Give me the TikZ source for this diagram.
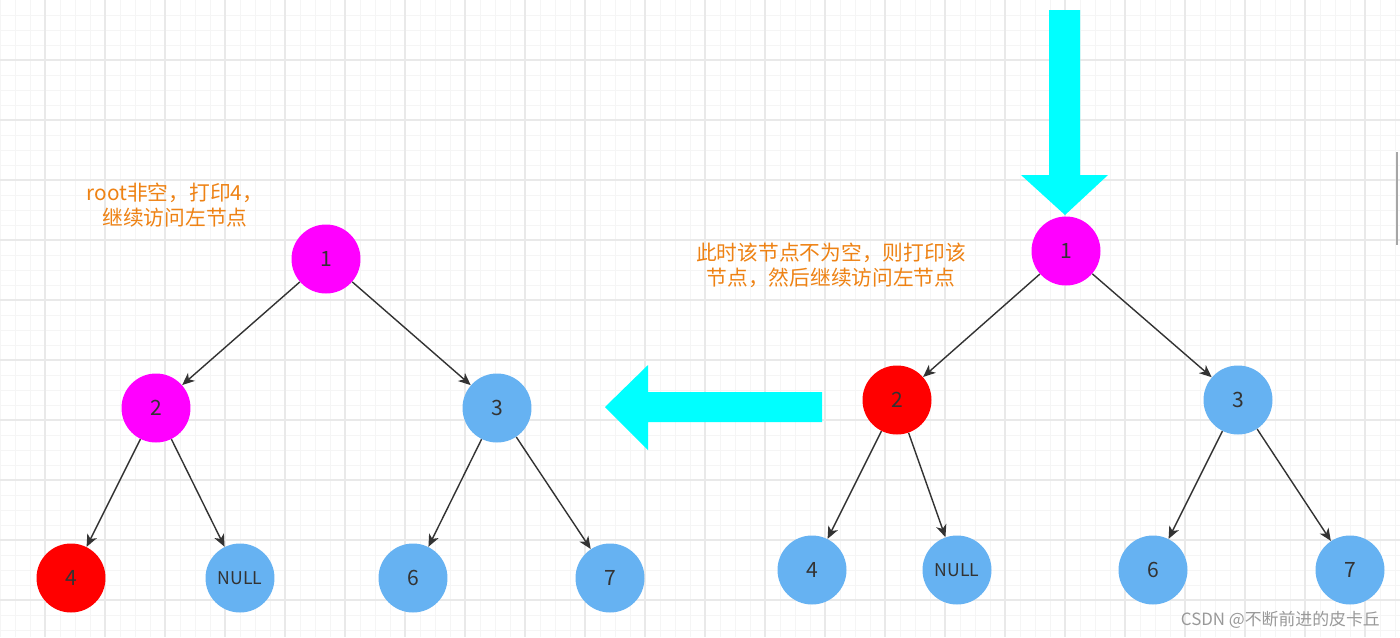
\documentclass[tikz,border=0pt]{standalone}
\usepackage{fontspec}
\setmainfont{Noto Sans CJK SC}
\usetikzlibrary{arrows.meta,positioning,calc}
\definecolor{nodeblue}{RGB}{102,178,242}
\definecolor{nodemagenta}{RGB}{255,0,255}
\definecolor{nodered}{RGB}{255,0,0}
\definecolor{arrowcyan}{RGB}{0,255,255}
\definecolor{textorange}{RGB}{238,130,20}
\definecolor{edgegray}{RGB}{51,51,51}
\definecolor{gridminor}{RGB}{245,245,245}
\definecolor{gridmajor}{RGB}{233,233,233}
\tikzset{
tnode/.style = {circle, minimum size=1.38cm, inner sep=0pt, text=edgegray, font=\fontsize{12}{14}\selectfont},
visited/.style = {tnode, fill=nodemagenta},
current/.style = {tnode, fill=nodered},
pending/.style = {tnode, fill=nodeblue},
nulltext/.style = {font=\fontsize{10}{12}\selectfont},
note/.style = {align=center, text=textorange, font=\fontsize{11.8}{14.2}\selectfont},
link/.style = {->, draw=edgegray, line width=0.8pt},
bigarrow/.style = {fill=arrowcyan}
}

\begin{document}
\begin{tikzpicture}[x=0.02cm, y=-0.02cm, >={Stealth[length=7pt,width=6pt,inset=2pt]}]
	\useasboundingbox (0,0) rectangle (1400,637);
	\fill[white] (0,0) rectangle (1400,637);
	\foreach \gx in {0,15,...,1395} \draw[gridminor, line width=0.5pt] (\gx,0) -- (\gx,637);
	\foreach \gy in {15,30,...,630} \draw[gridminor, line width=0.5pt] (0,\gy) -- (1400,\gy);
	\foreach \gx in {45,105,...,1365} \draw[gridmajor, line width=0.6pt] (\gx,0) -- (\gx,637);
	\foreach \gy in {60,120,...,600} \draw[gridmajor, line width=0.6pt] (0,\gy) -- (1400,\gy);
	\draw[gray!70, line width=0.6pt] (1397,152) -- (1397,245);
	% left tree
	\node[visited] (l1) at (326,259) {1};
	\node[visited] (l2) at (156,408) {2};
	\node[pending] (l3) at (497,408) {3};
	\node[current] (l4) at (71,578) {4};
	\node[pending, nulltext] (lnull) at (240,578) {NULL};
	\node[pending] (l6) at (413,578) {6};
	\node[pending] (l7) at (610,578) {7};
	\draw[link] (l1) -- (l2);
	\draw[link] (l1) -- (l3);
	\draw[link] (l2) -- (l4);
	\draw[link] (l2) -- (lnull);
	\draw[link] (l3) -- (l6);
	\draw[link] (l3) -- (l7);
	\node[note] (lnote) at (175,205) {root非空，打印4，\\继续访问左节点};
	% right tree
	\node[visited] (r1) at (1066,251) {1};
	\node[current] (r2) at (897,400) {2};
	\node[pending] (r3) at (1238,400) {3};
	\node[pending] (r4) at (812,570) {4};
	\node[pending, nulltext] (rnull) at (957,570) {NULL};
	\node[pending] (r6) at (1153,570) {6};
	\node[pending] (r7) at (1350,570) {7};
	\draw[link] (r1) -- (r2);
	\draw[link] (r1) -- (r3);
	\draw[link] (r2) -- (r4);
	\draw[link] (r2) -- (rnull);
	\draw[link] (r3) -- (r6);
	\draw[link] (r3) -- (r7);
	\node[note] (rnote) at (831,265) {此时该节点不为空，则打印该\\节点，然后继续访问左节点};
	% big arrows
	\fill[bigarrow] (1049,10) -- (1080,10) -- (1080,175) -- (1108,175) -- (1065,215) -- (1021,175) -- (1049,175) -- cycle;
	\fill[bigarrow] (822,392) -- (822,422) -- (648,422) -- (648,450) -- (605,407) -- (648,365) -- (648,392) -- cycle;
	\node[text=gray!80, anchor=east, font=\fontsize{9.6}{12}\selectfont] (mark) at (1386,620) {CSDN @不断前进的皮卡丘};
\end{tikzpicture}
\end{document}
